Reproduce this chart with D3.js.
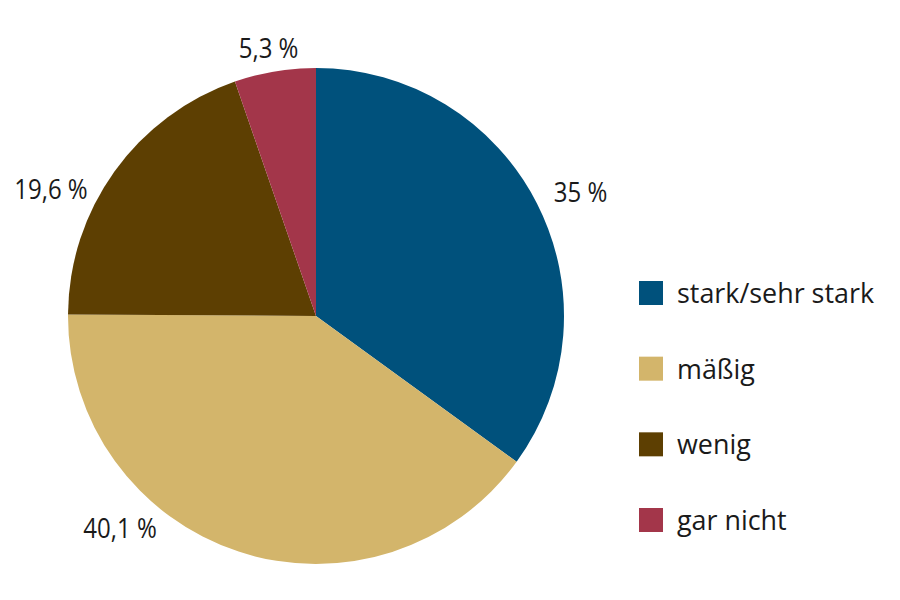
<!DOCTYPE html>
<html><head><meta charset="utf-8">
<script src="https://cdn.jsdelivr.net/npm/d3@7"></script>
<style>
html,body{margin:0;padding:0;background:#fff;}
svg{display:block;font-family:"Open Sans","Noto Sans",sans-serif;}
</style></head>
<body>
<svg id="c" width="900" height="600"></svg>
<script>
// Data
const categories = ["stark/sehr stark", "mäßig", "wenig", "gar nicht"];
const values = [35, 40.1, 19.6, 5.3];
const valueLabels = ["35 %", "40,1 %", "19,6 %", "5,3 %"];
const colors = ["#00517c", "#d3b56b", "#5d3f02", "#a3364a"];

// Layout (not data)
const cx = 316, cy = 316, R = 248;
const labelAngleShift = [2, 24.5, -10, -0.5];   // degrees
const labelRadius = [292, 289, 294, 272];

const svg = d3.select("#c");
const pie = d3.pie().sort(null).value(d => d)(values);
const arc = d3.arc().innerRadius(0).outerRadius(R);

const g = svg.append("g").attr("transform", `translate(${cx},${cy})`);
g.selectAll("path").data(pie).join("path")
  .attr("d", arc)
  .attr("fill", (d, i) => colors[i]);

g.selectAll("text.lbl").data(pie).join("text")
  .attr("class", "lbl")
  .attr("transform", (d, i) => {
    const a = (d.startAngle + d.endAngle) / 2 + labelAngleShift[i] * Math.PI / 180;
    const r = labelRadius[i];
    return `translate(${r * Math.sin(a)},${-r * Math.cos(a)}) scale(0.89,1)`;
  })
  .attr("text-anchor", "middle")
  .attr("dy", "0.36em")
  .attr("font-size", 27)
  .style("font-weight", 380)
  .attr("fill", "#1a1a1a")
  .text((d, i) => valueLabels[i]);

// Legend
const legendY = d3.scalePoint().domain(categories).range([281, 508]);
const lg = svg.append("g");
const items = lg.selectAll("g").data(categories).join("g")
  .attr("transform", d => `translate(639,${legendY(d)})`);
items.append("rect").attr("width", 24).attr("height", 24)
  .attr("fill", (d, i) => colors[i]);
items.append("text").attr("transform", "translate(38,22) scale(0.96,1)")
  .attr("font-size", 28)
  .style("font-weight", 380)
  .attr("fill", "#1a1a1a")
  .text(d => d);
</script>
</body></html>
